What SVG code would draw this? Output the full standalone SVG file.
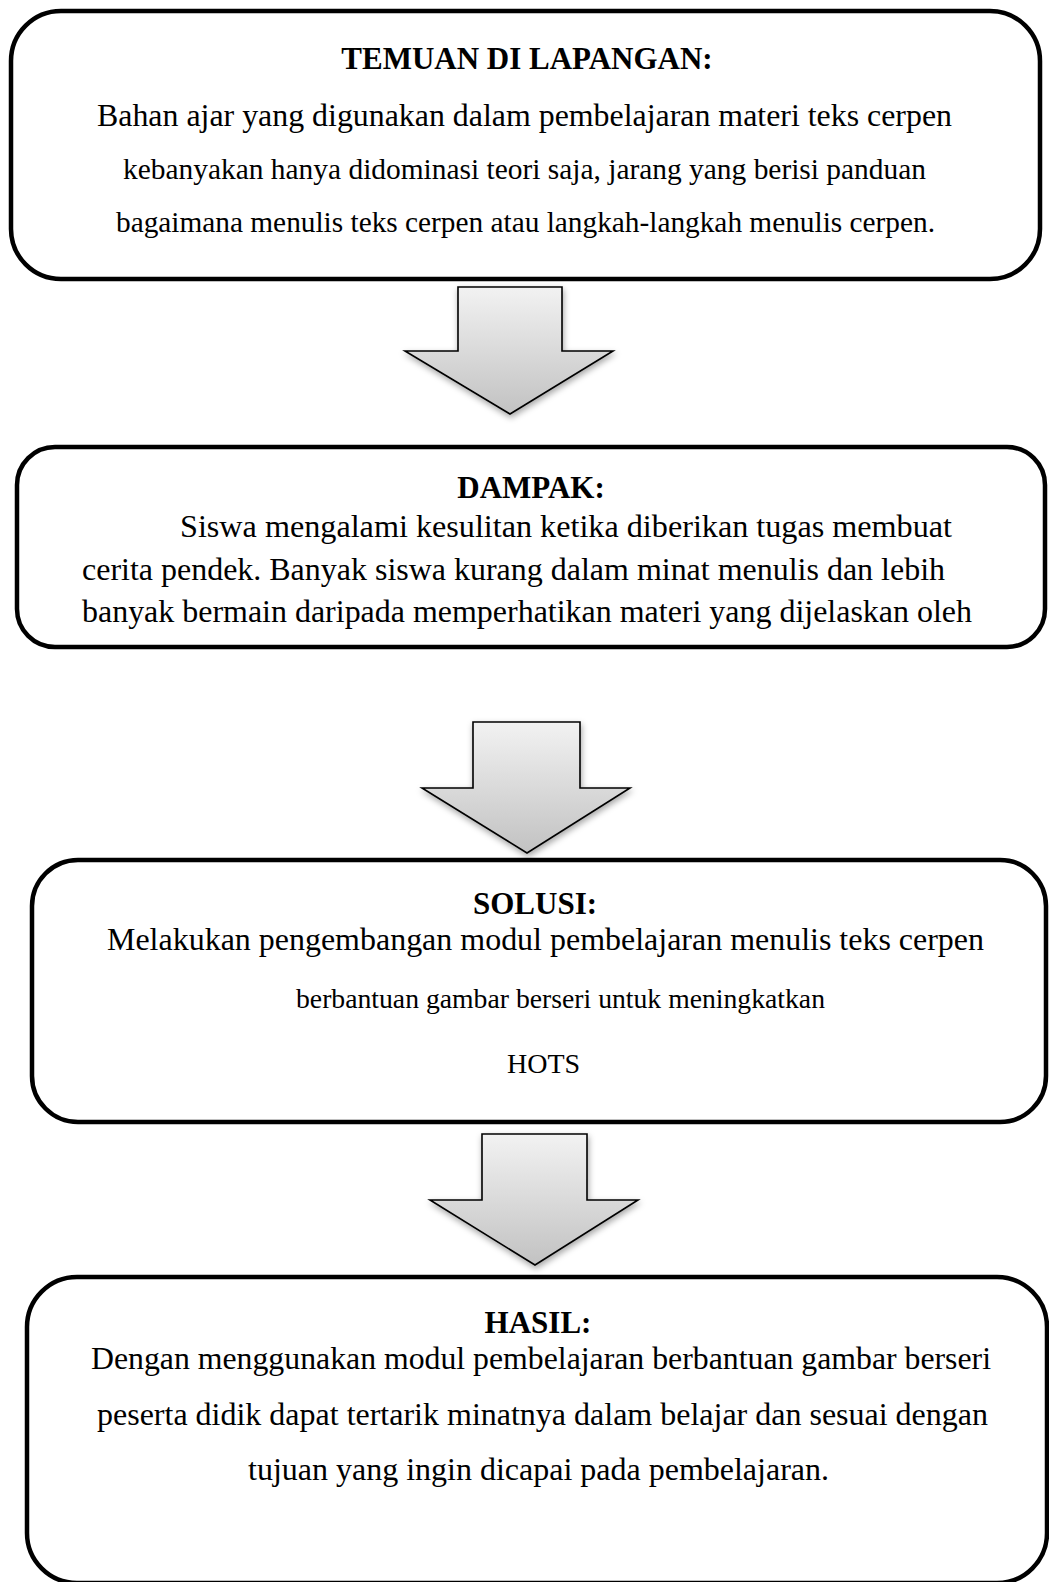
<svg xmlns="http://www.w3.org/2000/svg" width="1049" height="1582" viewBox="0 0 1049 1582">
<style>
.box{fill:#fff;stroke:#000;stroke-width:4.5}
.t{font-family:"Liberation Serif","Times New Roman",serif;fill:#000}
.h{font-weight:bold;font-size:31px;text-anchor:middle}
.b{font-size:32px}
.arrow{fill:url(#ag);stroke:#000;stroke-width:1.6;stroke-linejoin:miter;filter:url(#sh)}
</style>
<defs>
<linearGradient id="ag" x1="0" y1="0" x2="0" y2="1">
<stop offset="0" stop-color="#f2f2f2"/>
<stop offset="1" stop-color="#c2c2c2"/>
</linearGradient>
<filter id="sh" x="-20%" y="-20%" width="140%" height="150%">
<feDropShadow dx="1" dy="3" stdDeviation="3" flood-color="#000" flood-opacity="0.35"/>
</filter>
</defs>

<g id="connectors">
<path class="arrow" d="M458,287 H562 V351 H613 L510,414 L405,351 H458 Z"/>
<path class="arrow" d="M473,722 H580 V788 H630 L527,853 L422,788 H473 Z"/>
<path class="arrow" d="M482,1134 H587 V1200 H638 L535,1265 L430,1200 H482 Z"/>
</g>

<g id="node-temuan">
<rect class="box" x="11" y="11" width="1029" height="268" rx="50" ry="50"/>
<text class="t h" x="527" y="69">TEMUAN DI LAPANGAN:</text>
<text class="t b" x="97" y="126" textLength="855" lengthAdjust="spacingAndGlyphs">Bahan ajar yang digunakan dalam pembelajaran materi teks cerpen</text>
<text class="t" font-size="29.3" x="123" y="179" textLength="803" lengthAdjust="spacingAndGlyphs">kebanyakan hanya didominasi teori saja, jarang yang berisi panduan</text>
<text class="t" font-size="29.3" x="116" y="232" textLength="819" lengthAdjust="spacingAndGlyphs">bagaimana menulis teks cerpen atau langkah-langkah menulis cerpen.</text>
</g>

<g id="node-dampak">
<rect class="box" x="17" y="447" width="1028" height="200" rx="38" ry="38"/>
<text class="t h" x="531" y="498">DAMPAK:</text>
<text class="t b" x="180" y="537" textLength="772" lengthAdjust="spacingAndGlyphs">Siswa mengalami kesulitan ketika diberikan tugas membuat</text>
<text class="t b" x="82" y="580" textLength="863" lengthAdjust="spacingAndGlyphs">cerita pendek. Banyak siswa kurang dalam minat menulis dan lebih</text>
<text class="t b" x="82" y="622" textLength="890" lengthAdjust="spacingAndGlyphs">banyak bermain daripada memperhatikan materi yang dijelaskan oleh</text>
</g>

<g id="node-solusi">
<rect class="box" x="32" y="860" width="1014" height="262" rx="46" ry="46"/>
<text class="t h" x="535" y="914">SOLUSI:</text>
<text class="t b" x="107" y="950" textLength="877" lengthAdjust="spacingAndGlyphs">Melakukan pengembangan modul pembelajaran menulis teks cerpen</text>
<text class="t" font-size="27.7" x="296" y="1008" textLength="529" lengthAdjust="spacingAndGlyphs">berbantuan gambar berseri untuk meningkatkan</text>
<text class="t" font-size="28" x="507" y="1073">HOTS</text>
</g>

<g id="node-hasil">
<rect class="box" x="27" y="1277" width="1020" height="306" rx="50" ry="50"/>
<text class="t h" x="538" y="1333">HASIL:</text>
<text class="t b" x="91" y="1369" textLength="900" lengthAdjust="spacingAndGlyphs">Dengan menggunakan modul pembelajaran berbantuan gambar berseri</text>
<text class="t b" x="97" y="1425" textLength="891" lengthAdjust="spacingAndGlyphs">peserta didik dapat tertarik minatnya dalam belajar dan sesuai dengan</text>
<text class="t b" x="248" y="1480" textLength="581" lengthAdjust="spacingAndGlyphs">tujuan yang ingin dicapai pada pembelajaran.</text>
</g>
</svg>
